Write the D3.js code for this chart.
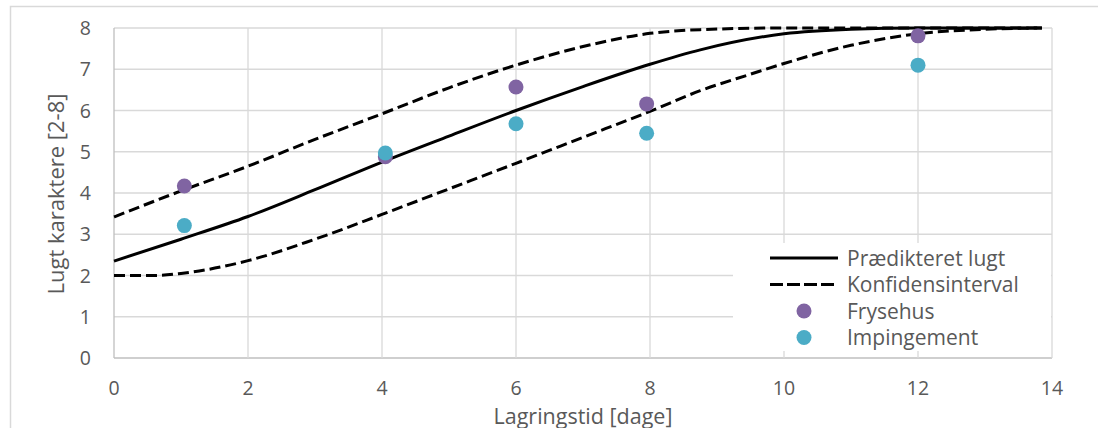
<!DOCTYPE html>
<html lang="da">
  <head>
    <meta charset="UTF-8" />
    <title>Lugt karaktere</title>
    <script src="https://d3js.org/d3.v7.min.js"></script>
    <style>
      body { margin: 0; background: #fff; }
      text { font-family: "Open Sans", Lato, sans-serif; fill: #595959; }
    </style>
  </head>
  <body>
    <script>
      // data
      const predX = [0, 1, 2, 3, 4, 5, 6, 7, 8, 8.75, 10, 11, 12, 13, 13.85];
      const predY = [2.35, 2.88, 3.43, 4.08, 4.75, 5.38, 6.0, 6.58, 7.12, 7.47, 7.86, 7.97, 8.0, 8.0, 8.0];
      const upperX = [0, 1, 2, 3, 4, 5, 6, 7, 8, 8.75, 10, 11, 12, 13, 13.85];
      const upperY = [3.42, 4.05, 4.65, 5.3, 5.92, 6.55, 7.1, 7.55, 7.87, 7.96, 8.0, 8.0, 8.0, 8.0, 8.0];
      const lowerX = [0, 0.6, 1, 2, 3, 4, 5, 6, 7, 8, 8.75, 9.5, 10, 11, 12, 13, 13.85];
      const lowerY = [2.0, 2.0, 2.05, 2.36, 2.88, 3.48, 4.1, 4.72, 5.35, 5.98, 6.48, 6.88, 7.14, 7.58, 7.86, 7.97, 8.0];
      const days = [1.05, 4.05, 6.0, 7.95, 12.0];
      const frysehus = [4.17, 4.88, 6.57, 6.16, 7.81];
      const impingement = [3.21, 4.97, 5.68, 5.45, 7.1];
      const xTicks = [0, 2, 4, 6, 8, 10, 12, 14];
      const yTicks = [0, 1, 2, 3, 4, 5, 6, 7, 8];

      const width = 1098;
      const height = 428;
      const svg = d3.select("body").append("svg")
        .attr("width", width)
        .attr("height", height);

      // outer chart frame
      svg.append("rect")
        .attr("x", 10.5).attr("y", 6.5)
        .attr("width", 1100).attr("height", 440)
        .attr("fill", "none").attr("stroke", "#d9d9d9").attr("stroke-width", 1.5);

      const x = d3.scaleLinear().domain([0, 14]).range([114, 1052]);
      const y = d3.scaleLinear().domain([0, 8]).range([358, 28]);

      // grid
      svg.append("g").selectAll("line").data(yTicks).join("line")
        .attr("x1", x(0)).attr("x2", x(14))
        .attr("y1", d => y(d)).attr("y2", d => y(d))
        .attr("stroke", d => d === 0 ? "#bfbfbf" : "#d9d9d9").attr("stroke-width", 1.3);
      svg.append("g").selectAll("line").data(xTicks).join("line")
        .attr("y1", y(0)).attr("y2", y(8))
        .attr("x1", d => x(d)).attr("x2", d => x(d))
        .attr("stroke", d => d === 0 ? "#bfbfbf" : "#d9d9d9").attr("stroke-width", 1.3);

      // tick labels
      svg.append("g").selectAll("text").data(yTicks).join("text")
        .attr("x", 91).attr("y", d => y(d))
        .attr("dy", "0.36em")
        .attr("text-anchor", "end")
        .style("font-size", "19.5px")
        .text(d => d);
      svg.append("g").selectAll("text").data(xTicks).join("text")
        .attr("x", d => x(d)).attr("y", 387.5)
        .attr("dy", "0.36em")
        .attr("text-anchor", "middle")
        .style("font-size", "19.5px")
        .text(d => d);

      // axis titles
      svg.append("text")
        .attr("x", 583).attr("y", 423.5)
        .attr("text-anchor", "middle")
        .style("font-size", "21.5px")
        .text("Lagringstid [dage]");
      svg.append("text")
        .attr("transform", `translate(56, ${y(4) + 1}) rotate(-90)`)
        .attr("dy", "0.36em")
        .attr("text-anchor", "middle")
        .style("font-size", "22px")
        .text("Lugt karaktere [2-8]");

      const line = d3.line()
        .x(d => x(d[0])).y(d => y(d[1]))
        .curve(d3.curveMonotoneX);

      svg.append("path")
        .attr("d", line(d3.zip(upperX, upperY)))
        .attr("fill", "none").attr("stroke", "#000")
        .attr("stroke-width", 3).attr("stroke-dasharray", "11,5");
      svg.append("path")
        .attr("d", line(d3.zip(lowerX, lowerY)))
        .attr("fill", "none").attr("stroke", "#000")
        .attr("stroke-width", 3).attr("stroke-dasharray", "11,5");
      svg.append("path")
        .attr("d", line(d3.zip(predX, predY)))
        .attr("fill", "none").attr("stroke", "#000")
        .attr("stroke-width", 3);

      svg.append("g").selectAll("circle").data(d3.zip(days, frysehus)).join("circle")
        .attr("cx", d => x(d[0])).attr("cy", d => y(d[1]))
        .attr("r", 7.5).attr("fill", "#8064a2");
      svg.append("g").selectAll("circle").data(d3.zip(days, impingement)).join("circle")
        .attr("cx", d => x(d[0])).attr("cy", d => y(d[1]))
        .attr("r", 7.5).attr("fill", "#4bacc6");

      // legend
      const legend = svg.append("g");
      legend.append("rect")
        .attr("x", 733).attr("y", 243)
        .attr("width", 318).attr("height", 108)
        .attr("fill", "#fff");
      const items = [
        { name: "Prædikteret lugt", type: "solid" },
        { name: "Konfidensinterval", type: "dash" },
        { name: "Frysehus", type: "dot", color: "#8064a2" },
        { name: "Impingement", type: "dot", color: "#4bacc6" }
      ];
      const row = legend.selectAll("g").data(items).join("g")
        .attr("transform", (d, i) => `translate(0, ${258 + i * 26.5})`);
      row.filter(d => d.type !== "dot").append("line")
        .attr("x1", 770).attr("x2", 838)
        .attr("stroke", "#000").attr("stroke-width", 3)
        .attr("stroke-dasharray", d => d.type === "dash" ? "13,4" : null);
      row.filter(d => d.type === "dot").append("circle")
        .attr("cx", 804).attr("r", 7.5)
        .attr("fill", d => d.color);
      row.append("text")
        .attr("x", 847).attr("dy", "0.36em")
        .style("font-size", "21px")
        .text(d => d.name);
    </script>
  </body>
</html>
